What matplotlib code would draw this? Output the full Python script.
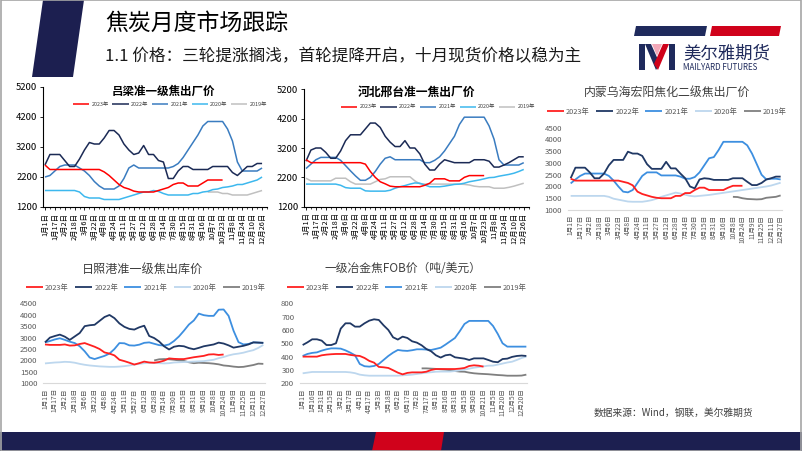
import matplotlib
import numpy as np

matplotlib.use("Agg")
import matplotlib.pyplot as plt
from matplotlib.patches import Polygon, Rectangle

plt.rcParams["font.family"] = ["Noto Sans CJK SC", "DejaVu Sans"]

W, H = 802, 451
NAN = np.nan

years = ["2023年", "2022年", "2021年", "2020年", "2019年"]

labels_a = ["1月1日", "1月17日", "2月2日", "2月18日", "3月6日", "3月22日", "4月8日", "4月24日",
            "5月11日", "5月27日", "6月12日", "6月28日", "7月14日", "7月30日", "8月15日", "8月31日",
            "9月16日", "10月7日", "10月23日", "11月8日", "11月24日", "12月10日", "12月26日"]
labels_b = ["1月1日", "1月17日", "2月2日", "2月18日", "3月6日", "3月22日", "4月8日", "4月24日",
            "5月11日", "5月27日", "6月12日", "6月28日", "7月14日", "7月30日", "8月15日", "8月31日",
            "9月16日", "10月8日", "10月24日", "11月9日", "11月25日", "12月11日", "12月27日"]
labels_fob = ["1月1日", "1月16日", "1月31日", "2月15日", "3月2日", "3月17日", "4月1日", "4月17日",
              "5月3日", "5月18日", "6月2日", "6月17日", "7月2日", "7月17日", "8月1日", "8月16日",
              "8月31日", "9月15日", "9月30日", "10月21日", "11月5日", "11月20日", "12月5日", "12月20日"]

# 吕梁准一级焦出厂价 (values every half label step)
ll_2023 = [2600, 2450, 2450, 2450, 2450, 2450, 2450, 2450, 2450, 2450, 2450, 2450, 2370, 2250, 2100,
           1950, 1850, 1800, 1730, 1700, 1700, 1700, 1700, 1750, 1800, 1850, 1950, 2000, 2000, 1900,
           1900, 1900, 2000, 2100, 2100, 2100, 2100] + [NAN] * 8
ll_2022 = [2600, 2950, 2950, 2950, 2750, 2550, 2550, 2800, 3100, 3350, 3300, 3300, 3500, 3750, 3750,
           3600, 3300, 3100, 2950, 3000, 3250, 2950, 2950, 2750, 2700, 2150, 2150, 2400, 2550, 2550,
           2450, 2450, 2450, 2450, 2550, 2550, 2550, 2550, 2350, 2250, 2400, 2550, 2550, 2650, 2650]
ll_2021 = [2200, 2250, 2400, 2550, 2600, 2600, 2600, 2500, 2400, 2250, 2050, 1900, 1800, 1800, 1800,
           1900, 2150, 2500, 2600, 2500, 2500, 2500, 2500, 2500, 2500, 2500, 2550, 2650, 2850, 3100,
           3350, 3600, 3900, 4050, 4050, 4050, 4050, 3800, 3400, 2700, 2400, 2400, 2400, 2400, 2500]
ll_2020 = [1750, 1750, 1750, 1750, 1750, 1750, 1750, 1700, 1550, 1500, 1500, 1500, 1450, 1450, 1450,
           1450, 1500, 1550, 1600, 1650, 1700, 1700, 1750, 1720, 1650, 1600, 1600, 1600, 1600, 1600,
           1650, 1650, 1700, 1720, 1780, 1800, 1850, 1870, 1900, 1950, 1950, 2000, 2050, 2100, 2200]
ll_2019 = [NAN] * 33 + [1700, 1700, 1700, 1650, 1650, 1600, 1600, 1600, 1600, 1650, 1700, 1750]

# 河北邢台准一焦出厂价
hb_2023 = [2800, 2700, 2700, 2700, 2700, 2700, 2700, 2700, 2700, 2700, 2700, 2700, 2650, 2400, 2200,
           2050, 1980, 1900, 1880, 1880, 1880, 1880, 1880, 1880, 1930, 2000, 2150, 2150, 2150, 2080,
           2080, 2080, 2200, 2260, 2260, 2260, 2260] + [NAN] * 8
hb_2022 = [2750, 3130, 3200, 3200, 3050, 2850, 2850, 3100, 3450, 3650, 3650, 3650, 3850, 4050, 4050,
           3900, 3600, 3400, 3250, 3250, 3450, 3200, 3200, 3000, 2650, 2450, 2450, 2650, 2800, 2750,
           2700, 2700, 2700, 2700, 2800, 2800, 2800, 2750, 2550, 2550, 2620, 2700, 2800, 2900, 2900]
hb_2021 = [2500, 2650, 2800, 2880, 2880, 2880, 2880, 2780, 2600, 2420, 2250, 2100, 2100, 2200, 2400,
           2650, 2850, 2900, 2800, 2800, 2800, 2800, 2800, 2800, 2700, 2700, 2780, 2900, 3100, 3350,
           3600, 4000, 4250, 4250, 4250, 4250, 4250, 3950, 3500, 2800, 2620, 2620, 2620, 2620, 2700]
hb_2020 = [1970, 1970, 1970, 1970, 1970, 1970, 1970, 1930, 1850, 1830, 1830, 1830, 1740, 1730, 1730,
           1730, 1730, 1760, 1830, 1880, 1920, 1970, 2010, 2000, 1940, 1880, 1880, 1880, 1900, 1930,
           1960, 1970, 2000, 2050, 2080, 2110, 2150, 2190, 2200, 2240, 2270, 2300, 2340, 2400, 2470]
hb_2019 = [2170, 2080, 2080, 2080, 2080, 2080, 2170, 2170, 2170, 2050, 1970, 1970, 1970, 1970, 2050,
           2130, 2150, 2220, 2220, 2220, 2220, 2220, 2080, 1980, 1970, 1970, 1970, 1970, 1970, 1970,
           1970, 1970, 1960, 1940, 1900, 1880, 1880, 1880, 1830, 1830, 1830, 1860, 1900, 1950, 2000]

# 内蒙乌海宏阳焦化二级焦出厂价
nm_2023 = [2330, 2250, 2250, 2250, 2250, 2250, 2250, 2250, 2250, 2250, 2250, 2200, 2150, 2050, 1780,
           1680, 1620, 1560, 1520, 1500, 1500, 1500, 1600, 1600, 1720, 1720, 1850, 1950, 1950, 1850,
           1850, 1850, 1850, 1950, 2030, 2030, 2030] + [NAN] * 8
nm_2022 = [2350, 2800, 2800, 2800, 2600, 2350, 2350, 2550, 2900, 3130, 3130, 3130, 3480, 3400, 3400,
           3300, 2950, 2750, 2750, 2750, 3050, 2770, 2770, 2550, 2350, 2000, 1920, 2300, 2350, 2330,
           2280, 2280, 2280, 2280, 2350, 2350, 2350, 2200, 2060, 2060, 2150, 2300, 2350, 2420, 2420]
nm_2021 = [2130, 2300, 2450, 2550, 2550, 2550, 2550, 2550, 2450, 2250, 2000, 1780, 1750, 1850, 2150,
           2450, 2600, 2600, 2600, 2470, 2470, 2470, 2470, 2420, 2330, 2330, 2400, 2600, 2900, 3200,
           3250, 3550, 3900, 3900, 3900, 3900, 3900, 3750, 3400, 2950, 2500, 2300, 2330, 2330, 2300]
nm_2020 = [1600, 1600, 1600, 1600, 1600, 1600, 1600, 1600, 1560, 1480, 1440, 1400, 1360, 1350, 1350,
           1350, 1380, 1420, 1480, 1560, 1620, 1680, 1740, 1700, 1650, 1600, 1580, 1600, 1620, 1640,
           1670, 1700, 1730, 1760, 1790, 1820, 1850, 1880, 1910, 1940, 1970, 2000, 2040, 2100, 2160]
nm_2019 = [NAN] * 34 + [1560, 1550, 1500, 1470, 1460, 1450, 1460, 1520, 1540, 1560, 1620]

# 日照港准一级焦出库价
rz_2023 = [2700, 2680, 2680, 2680, 2700, 2650, 2660, 2720, 2760, 2680, 2600, 2500, 2350, 2300, 2220,
           2030, 1970, 1900, 1820, 1880, 1950, 1910, 1900, 1930, 1990, 2090, 2070, 2060, 2060, 2100,
           2140, 2170, 2200, 2260, 2270, 2240, 2260] + [NAN] * 8
rz_2022 = [2790, 3000, 3070, 3130, 3040, 2900, 3050, 3200, 3500, 3540, 3560, 3730, 3900, 3990, 3850,
           3620, 3470, 3380, 3350, 3450, 3520, 3070, 2980, 2830, 2620, 2480, 2600, 2640, 2620, 2540,
           2490, 2550, 2620, 2660, 2700, 2780, 2740, 2660, 2560, 2600, 2640, 2700, 2790, 2780, 2770]
rz_2021 = [2790, 2850, 2920, 2970, 2900, 2820, 2760, 2620, 2400, 2130, 2060, 2130, 2200, 2300, 2500,
           2760, 2750, 2660, 2650, 2690, 2770, 2790, 2730, 2670, 2650, 2700, 2850, 3050, 3300, 3570,
           3750, 4050, 3980, 3950, 3950, 4220, 4230, 3950, 3300, 2800, 2700, 2720, 2790, 2780, 2770]
rz_2020 = [1870, 1890, 1910, 1920, 1940, 1930, 1900, 1850, 1810, 1780, 1760, 1740, 1730, 1720, 1720,
           1730, 1750, 1780, 1820, 1850, 1880, 1900, 1890, 1880, 1870, 1880, 1910, 1920, 1930, 1940,
           1950, 1960, 1970, 2000, 2030, 2100, 2150, 2220, 2270, 2300, 2340, 2400, 2450, 2550, 2680]
rz_2019 = [NAN] * 22 + [2000, 2050, 2060, 2050, 2030, 2000, 1980, 1920, 1880, 1900, 1890, 1880,
                        1860, 1830, 1780, 1760, 1730, 1710, 1720, 1760, 1800, 1860, 1850]

# 一级冶金焦FOB价（吨/美元）
fob_2023 = [400, 400, 400, 400, 410, 415, 418, 420, 420, 420, 413, 408, 405, 390, 368, 355, 323, 320,
            315, 298, 280, 267, 278, 282, 282, 282, 287, 300, 307, 307, 307, 307, 307, 310, 315, 330,
            335, 332, 325] + [NAN] * 9
fob_2022 = [487, 507, 530, 530, 520, 487, 487, 500, 610, 650, 650, 625, 625, 650, 670, 680, 675, 635,
            600, 545, 528, 550, 540, 515, 505, 485, 457, 440, 410, 393, 410, 415, 395, 390, 385, 375,
            387, 387, 387, 375, 362, 358, 382, 385, 398, 405, 408, 405]
fob_2021 = [405, 420, 428, 432, 445, 455, 462, 462, 460, 447, 430, 410, 345, 328, 325, 330, 345, 375,
            405, 430, 450, 445, 443, 448, 455, 455, 453, 450, 458, 467, 490, 515, 540, 590, 645, 668,
            668, 668, 668, 668, 630, 570, 500, 475, 475, 475, 475, 475]
fob_2020 = [275, 280, 285, 285, 285, 285, 285, 285, 285, 285, 282, 276, 265, 260, 257, 257, 257, 257,
            257, 257, 257, 260, 262, 265, 270, 275, 280, 283, 287, 288, 288, 288, 292, 298, 302, 310,
            317, 322, 327, 332, 333, 340, 348, 356, 362, 375, 390, 400]
fob_2019 = [NAN] * 25 + [312, 312, 310, 308, 305, 302, 298, 292, 288, 287, 280, 275, 272, 270, 268,
                         265, 262, 260, 257, 257, 257, 258, 265]

NAVY = "#1c1f50"
RED = "#d0021b"
colors_a = ["#ff0000", "#1b2a55", "#3a7cc0", "#3db8ee", "#c0c0c0"]
colors_b = ["#ff2020", "#203864", "#3d8fe0", "#bdd7ee", "#7f7f7f"]


def rect(left, top, right, bottom):
    return [left / W, 1 - bottom / H, (right - left) / W, (bottom - top) / H]


def pt(x, y):
    return (x / W, 1 - y / H)


def draw_chart(fig, box, xlim, xlabels, series, colors, lw, ylim, ystep, style):
    ax = fig.add_axes(rect(*box))
    x = np.arange(len(series[0])) * 0.5
    lines = []
    for i, values in enumerate(series):
        (line,) = ax.plot(x, np.array(values, dtype=float), color=colors[i], lw=lw, zorder=10 - i,
                          solid_capstyle="butt")
        lines.append(line)
    ax.set_xlim(*xlim)
    ax.set_ylim(*ylim)
    ax.set_yticks(np.arange(ylim[0], ylim[1] + 1, ystep))
    ax.set_xticks(range(len(xlabels)))
    ax.set_xticklabels(xlabels, rotation=90)
    ax.spines["top"].set_visible(False)
    ax.spines["right"].set_visible(False)
    ax.patch.set_alpha(0)
    if style == "a":
        ax.spines["left"].set_linewidth(0.8)
        ax.spines["bottom"].set_linewidth(0.8)
        ax.set_xticks(np.arange(0.5, len(xlabels), 1), minor=True)
        ax.tick_params(axis="x", which="major", length=2.5, width=0.6, pad=1.5, labelsize=5.3, colors="black")
        ax.tick_params(axis="x", which="minor", length=1.5, width=0.5)
        ax.tick_params(axis="y", length=2.5, width=0.6, pad=1.5, labelsize=6.8)
    else:
        ax.spines["left"].set_visible(False)
        ax.spines["bottom"].set_color("#d9d9d9")
        ax.spines["bottom"].set_linewidth(0.8)
        ax.tick_params(axis="x", length=0, pad=3.5, labelsize=4.8, labelcolor="#595959")
        ax.tick_params(axis="y", length=0, pad=4, labelsize=5.6, labelcolor="#595959")
    return ax, lines


def add_legend(fig, ax, lines, center, style):
    if style == "a":
        kw = dict(fontsize=3.9, handlelength=3.0, handletextpad=0.4, columnspacing=0.7, labelcolor="#404040")
    else:
        kw = dict(fontsize=5.3, handlelength=2.3, handletextpad=0.3, columnspacing=0.85, labelcolor="#595959")
    ax.legend(lines, years, loc="center", bbox_to_anchor=pt(*center), bbox_transform=fig.transFigure,
              ncol=5, frameon=False, borderaxespad=0, borderpad=0, **kw)


fig = plt.figure(figsize=(8.02, 4.51), dpi=100)
fig.patch.set_facecolor("white")

# header
fig.add_artist(Polygon([pt(43, 0), pt(84, 0), pt(73, 77), pt(32, 77)], closed=True,
                       transform=fig.transFigure, color=NAVY, lw=0))
fig.text(*pt(105, 23), "焦炭月度市场跟踪", fontsize=16.5, ha="left", va="center", color="black")
fig.text(*pt(105, 57), "1.1 价格：三轮提涨搁浅，首轮提降开启，十月现货价格以稳为主", fontsize=12,
         ha="left", va="center", color="#1a1a1a")

# logo
fig.add_artist(Polygon([pt(636, 26), pt(707, 26), pt(705, 36), pt(634, 36)], closed=True,
                       transform=fig.transFigure, color="#1f2a5c", lw=0))
fig.add_artist(Polygon([pt(712, 26), pt(781, 26), pt(779, 36), pt(710, 36)], closed=True,
                       transform=fig.transFigure, color=RED, lw=0))
fig.add_artist(Polygon([pt(639, 70), pt(645, 70), pt(645, 44), pt(639, 44)], closed=True,
                       transform=fig.transFigure, color="#1f2a5c", lw=0))
fig.add_artist(Polygon([pt(669, 70), pt(675, 70), pt(675, 44), pt(669, 44)], closed=True,
                       transform=fig.transFigure, color="#1f2a5c", lw=0))
fig.add_artist(Polygon([pt(645, 44), pt(651, 44), pt(660, 64), pt(656, 70)], closed=True,
                       transform=fig.transFigure, color="#1f2a5c", lw=0))
fig.add_artist(Polygon([pt(663, 44), pt(669, 44), pt(658, 70), pt(654, 64)], closed=True,
                       transform=fig.transFigure, color=RED, lw=0))
fig.add_artist(Polygon([pt(652, 44), pt(662, 44), pt(657, 56)], closed=True,
                       transform=fig.transFigure, color="#f2a8b8", lw=0))
fig.text(*pt(683, 53), "美尔雅期货", fontsize=12.5, ha="left", va="center", color="#1f2a5c")
fig.text(*pt(683, 67), "MAILYARD FUTURES", fontsize=5.8, ha="left", va="center", color="#1f2a5c")

# chart 1
ax1, l1 = draw_chart(fig, (43, 87, 267, 207), (-0.2, 22.2), labels_a,
                     [ll_2023, ll_2022, ll_2021, ll_2020, ll_2019], colors_a, 1.1, (1200, 5200), 1000, "a")
fig.text(*pt(163, 91), "吕梁准一级焦出厂价", fontsize=8.3, ha="center", va="center", fontweight="bold")
add_legend(fig, ax1, l1, (170, 104), "a")

# chart 2
ax2, l2 = draw_chart(fig, (303.5, 89.3, 528.7, 206.7), (-0.25, 22.2), labels_a,
                     [hb_2023, hb_2022, hb_2021, hb_2020, hb_2019], colors_a, 1.1, (1200, 5200), 1000, "a")
fig.text(*pt(417, 92), "河北邢台准一焦出厂价", fontsize=8.5, ha="center", va="center", fontweight="bold")
add_legend(fig, ax2, l2, (438, 107), "a")

# chart 3
ax3, l3 = draw_chart(fig, (567.8, 127.7, 781.6, 210), (-0.3, 22.1), labels_b,
                     [nm_2023, nm_2022, nm_2021, nm_2020, nm_2019], colors_b, 1.3, (1000, 4500), 500, "b")
fig.text(*pt(667, 92), "内蒙乌海宏阳焦化二级焦出厂价", fontsize=8.6, ha="center", va="center", color="#404040")
add_legend(fig, ax3, l3, (667, 112), "b")

# chart 4
ax4, l4 = draw_chart(fig, (43, 303.3, 265.3, 383.3), (-0.2, 22.2), labels_b,
                     [rz_2023, rz_2022, rz_2021, rz_2020, rz_2019], colors_b, 1.3, (1000, 4500), 500, "b")
fig.text(*pt(143, 269), "日照港准一级焦出库价", fontsize=8.7, ha="center", va="center", color="#404040")
add_legend(fig, ax4, l4, (146, 288), "b")

# chart 5
ax5, l5 = draw_chart(fig, (299.8, 303.3, 527.3, 383.3), (-0.3, 23.6), labels_fob,
                     [fob_2023, fob_2022, fob_2021, fob_2020, fob_2019], colors_b, 1.3, (200, 800), 100, "b")
fig.text(*pt(403, 268), "一级冶金焦FOB价（吨/美元）", fontsize=8.5, ha="center", va="center", color="#404040")
add_legend(fig, ax5, l5, (407, 288), "b")

fig.text(*pt(673, 413), "数据来源：Wind，钢联，美尔雅期货", fontsize=7, ha="center", va="center", color="#404040")

# footer band
fig.add_artist(Rectangle(pt(0, 451), 1, 19 / H, transform=fig.transFigure, color=NAVY, lw=0))
fig.add_artist(Polygon([pt(376, 432), pt(444, 432), pt(441, 451), pt(372, 451)], closed=True,
                       transform=fig.transFigure, color=RED, lw=0))
fig.add_artist(Rectangle((0.001, 0.001), 0.998, 0.998, transform=fig.transFigure, fill=False,
                         edgecolor="#a6a6a6", lw=1.2))

fig.savefig("out.png", dpi=100)
